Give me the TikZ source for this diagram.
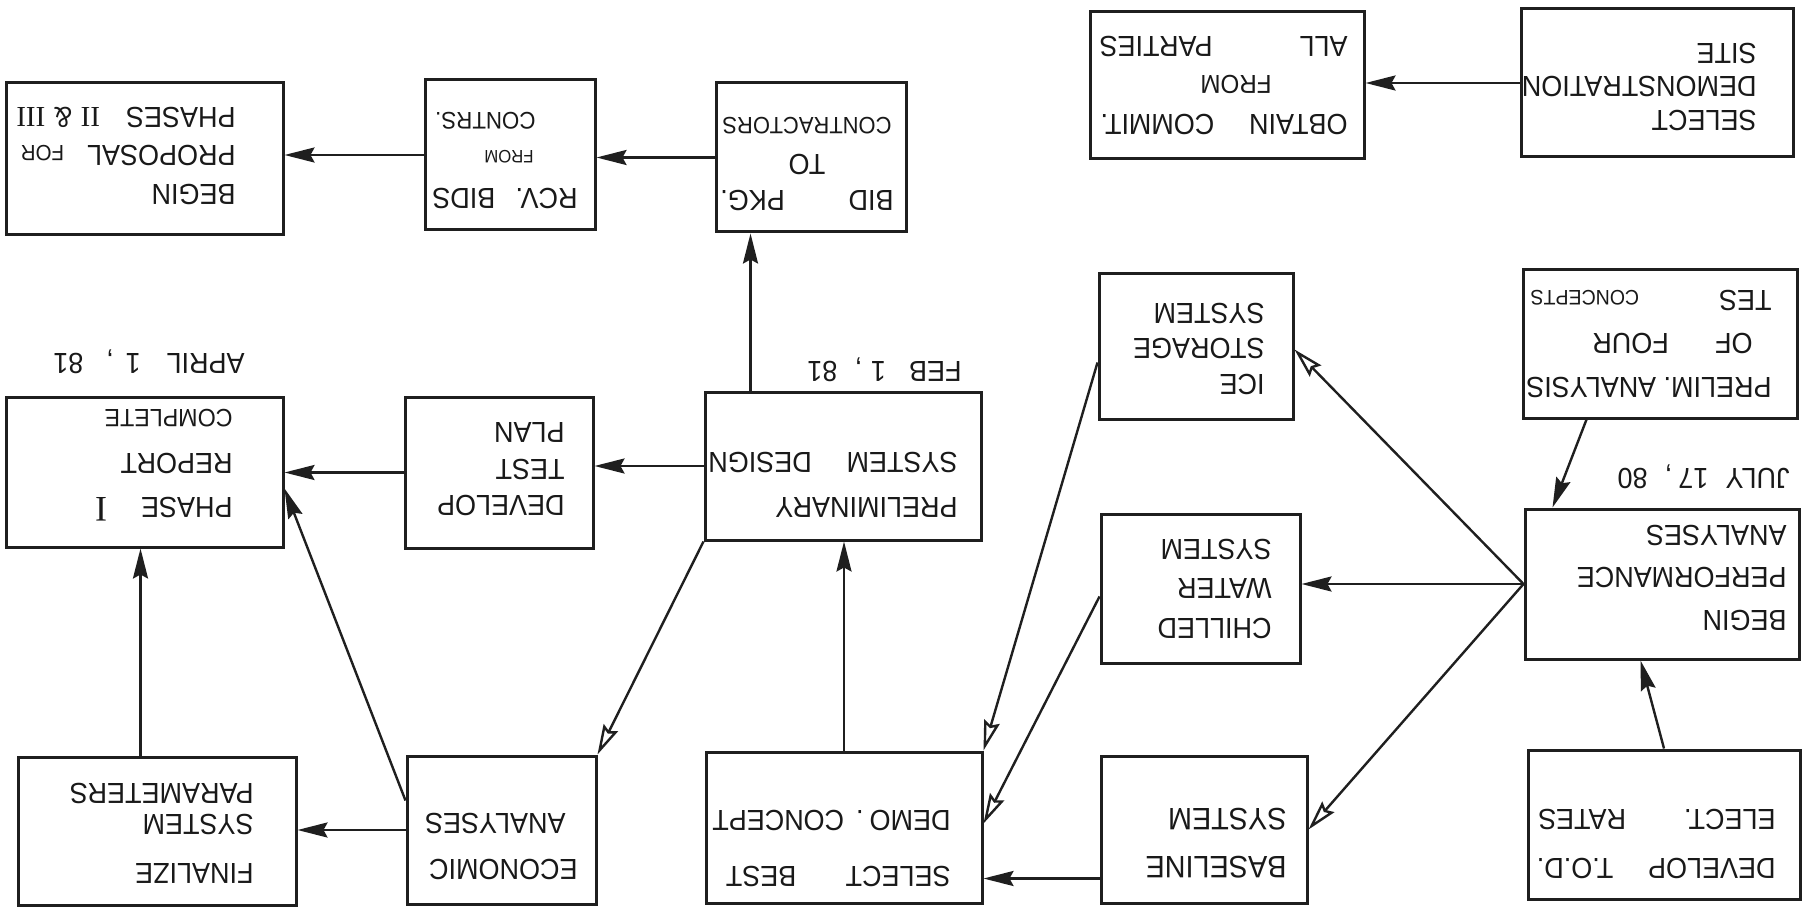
\documentclass[tikz,border=0pt]{standalone}
\usepackage{fontspec}
\setmainfont{Liberation Sans}[FakeStretch=0.93]
\newfontfamily\romfont{Liberation Serif}
\usetikzlibrary{arrows.meta,calc}
\newcommand\myfs[2]{\fontsize{#1}{#2}\selectfont}
\begin{document}
\begin{tikzpicture}[x=0.5pt,y=-0.5pt,
  box/.style={draw=black!88, line width=1.5pt, inner sep=0pt},
  txt/.style={inner sep=0pt, align=left, anchor=west, text=black!90},
  ctxt/.style={inner sep=0pt, align=center, text=black!90},
  arr/.style={draw=black!88, line width=1.2pt, -{Stealth[length=15pt,width=7.5pt,inset=2pt]}},
  oarr/.style={draw=black!88, line width=1.2pt, -{Stealth[open,length=15pt,width=8pt,inset=2pt]}},
  font=\myfs{14.5}{20}]
\useasboundingbox (0,0) rectangle (1804,909);
\fill[white] (0,0) rectangle (1804,909);
\begin{scope}[shift={(1804,909)},rotate=180,transform shape]
% boxes (coordinates in the upright orientation of the drawing)
\node[box, minimum width=136pt,   minimum height=74pt]   (selsite)   at (147,826)    {};
\node[box, minimum width=137pt,   minimum height=73.5pt] (obtain)    at (577,823.5)  {};
\node[box, minimum width=95pt,    minimum height=74.5pt] (bid)       at (993,751.5)  {};
\node[box, minimum width=85pt,    minimum height=75pt]   (rcv)       at (1294,754)   {};
\node[box, minimum width=138.5pt, minimum height=76pt]   (beginprop) at (1659.5,750) {};
\node[box, minimum width=137pt,   minimum height=74pt]   (prelanal)  at (144,565)    {};
\node[box, minimum width=97pt,    minimum height=72.5pt] (ice)       at (608,562.5)  {};
\node[box, minimum width=138pt,   minimum height=74pt]   (prelim)    at (961,443)    {};
\node[box, minimum width=94pt,    minimum height=75.5pt] (develop)   at (1305,436.5) {};
\node[box, minimum width=138.5pt, minimum height=75pt]   (phase1)    at (1659.5,437) {};
\node[box, minimum width=137pt,   minimum height=75pt]   (beginperf) at (142,325)    {};
\node[box, minimum width=99.5pt,  minimum height=74.5pt] (chilled)   at (603.5,320.5){};
\node[box, minimum width=136pt,   minimum height=74.5pt] (develtod)  at (140,84.5)   {};
\node[box, minimum width=103pt,   minimum height=73.5pt] (baseline)  at (600,79.5)   {};
\node[box, minimum width=138pt,   minimum height=75.5pt] (selbest)   at (960,81.5)   {};
\node[box, minimum width=94.5pt,  minimum height=74pt]   (economic)  at (1302.5,79)  {};
\node[box, minimum width=139pt,   minimum height=74pt]   (finalize)  at (1647,78)    {};
% texts
\node[txt, font=\myfs{14.5}{16.75}] (tselsite) at (47,822.5) {SELECT\\DEMONSTRATION\\SITE};
\node[txt, font=\myfs{14.5}{19.5}] (tobtain) at (456,824) {OBTAIN\hspace{1.2em}COMMIT.\\\hspace*{38pt}{\myfs{13}{14}FROM}\\ALL\hspace{3em}PARTIES};
\node[ctxt, font=\myfs{14.5}{18.25}] (tbid) at (997,744.5) {BID\hspace{2.2em}PKG.\\TO\\{\myfs{11.8}{13}CONTRACTORS}};
\node[txt, font=\myfs{14.5}{19}] (trcv) at (1226,748) {RCV.\hspace{0.7em}BIDS\\\hspace*{22pt}{\myfs{9}{10}FROM}\\\hspace*{21pt}{\myfs{12}{13}CONTRS.}};
\node[txt, font=\myfs{14.5}{19.25}] (tbeginprop) at (1568,753.5) {BEGIN\\PROPOSAL\hspace{0.8em}{\myfs{11}{12}FOR}\\PHASES\hspace{0.9em}{\romfont II}\hspace{0.3em}\&\hspace{0.3em}{\romfont III}};
\node[txt, font=\myfs{14.5}{21.75}] (tprelanal) at (32,565.5) {PRELIM.\ ANALYSIS\\\hspace*{9.5pt}OF\hspace{1.6em}FOUR\\TES\hspace{40pt}{\myfs{10.5}{12}CONCEPTS}};
\node[txt, font=\myfs{14.5}{17.75}] (tice) at (539,560.5) {ICE\\STORAGE\\SYSTEM};
\node[txt, font=\myfs{14.5}{19.75}] (tchilled) at (532,320.5) {CHILLED\\WATER\\SYSTEM};
\node[txt, font=\myfs{15.5}{24}] (tbaseline) at (517,66) {BASELINE\\SYSTEM};
\node[txt, font=\myfs{14.5}{21.25}] (tbeginperf) at (17,331.5) {BEGIN\\PERFORMANCE\\ANALYSES};
\node[txt, font=\myfs{14.5}{22}] (tphase1) at (1571,444) {PHASE\hspace{17pt}{\romfont\myfs{18}{18}I}\\REPORT\\{\myfs{12.5}{14}COMPLETE}};
\node[txt, font=\myfs{14.5}{22.5}] (tprelim) at (846,424.5) {PRELIMINARY\\SYSTEM\hspace{1.2em}DESIGN};
\node[txt, font=\myfs{14.5}{18.25}] (tdevelop) at (1239,439.5) {DEVELOP\\TEST\\PLAN};
\node[txt, font=\myfs{14.5}{28}] (tselbest) at (853,61) {SELECT\hspace{1.7em}BEST\\DEMO\hspace{3pt}.\hspace{6pt}CONCEPT};
\node[txt, font=\myfs{14.5}{23}] (teconomic) at (1226,63) {ECONOMIC\\\hspace*{6pt}ANALYSES};
\node[txt, font=\myfs{14.5}{19.5}] (tfinalize) at (1550,76) {FINALIZE\\[5pt]SYSTEM\\[-4pt]PARAMETERS};
\node[txt, font=\myfs{14.5}{24.5}] (tdeveltod) at (28,65.5) {DEVELOP\hspace{1.2em}T.O.D.\\ELECT.\hspace{2em}RATES};
% dates
\node[txt] (ljuly)  at (14,432)   {JULY\hspace{0.6em}17\hspace{0.2em},\hspace{0.6em}80};
\node[txt] (lfeb)   at (842,539)  {FEB\hspace{0.8em}1\hspace{0.3em},\hspace{0.6em}81};
\node[txt] (lapril) at (1559,547) {APRIL\hspace{0.9em}1\hspace{0.4em},\hspace{0.8em}81};
% connectors
\draw[arr]  (selsite.east) -- (selsite.east -| obtain.west);
\draw[arr]  (bid.east) -- (bid.east -| rcv.west);
\draw[arr]  (rcv.east) -- (rcv.east -| beginprop.west);
\draw[arr]  ($(prelim.south east)+(-47,0)$) -- ($(bid.north east)+(-36,0)$);
\draw[arr]  (prelim.east) -- (prelim.east -| develop.west);
\draw[arr]  (develop.east) -- (develop.east -| phase1.west);
\draw[oarr] (prelim.north east) -- (economic.south west);
\draw[arr]  ($(economic.south east)+(0,-46)$) -- ($(phase1.north west)+(0,60)$);
\draw[arr]  (economic.east) -- (economic.east -| finalize.west);
\draw[arr]  ($(finalize.south west)+(157,0)$) -- ($(phase1.north west)+(144,0)$);
\draw[arr]  (selbest.south) -- (selbest.south |- prelim.north);
\draw[oarr] ($(ice.east)+(0,-16)$) -- (selbest.south west);
\draw[oarr] ($(chilled.east)+(0,-8)$) -- ($(selbest.west)+(0,4)$);
\draw[arr]  ($(baseline.north east)+(0,26)$) -- ($(selbest.north west)+(0,26)$);
\draw[oarr] (beginperf.east) -- ($(ice.west)+(0,-3)$);
\draw[arr]  (beginperf.east) -- (beginperf.east -| chilled.west);
\draw[oarr] (beginperf.east) -- (baseline.west);
\draw[arr]  ($(prelanal.north west)+(212,0)$) -- ($(beginperf.south west)+(248,0)$);
\draw[arr]  (develtod.south) -- ($(beginperf.north west)+(160,0)$);
\end{scope}
\end{tikzpicture}
\end{document}
